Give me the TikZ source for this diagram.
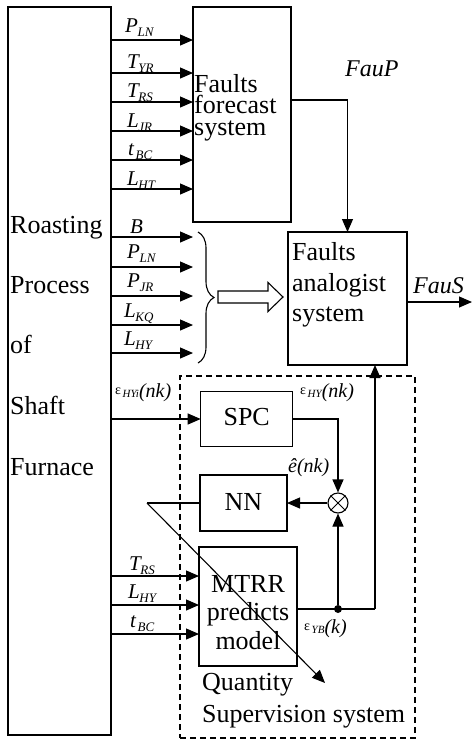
\documentclass[tikz,border=0pt]{standalone}
\usepackage{fontspec}
\setmainfont{Liberation Serif}
\usetikzlibrary{arrows.meta,decorations.pathreplacing}
\newcommand\bigf{\fontsize{26}{26}\selectfont}
\newcommand\lab[2]{{\itshape\fontsize{21}{21}\selectfont #1\kern-0.5pt\raisebox{-4pt}{\fontsize{13}{13}\selectfont #2}}}
\newcommand\myeps{{\fontsize{14}{14}\selectfont\raisebox{3pt}{ε}}}
\newcommand\mysub[1]{{\itshape\fontsize{11}{11}\selectfont #1}}
\newcommand\myarg[1]{{\itshape\fontsize{20}{20}\selectfont #1}}
\begin{document}
\begin{tikzpicture}[x=1pt,y=-1pt,
  box/.style={draw, line width=1.2pt, inner sep=0pt, outer sep=0pt},
  arr/.style={line width=1.1pt, -{Triangle[length=13pt,width=11pt]}},
  ln/.style={line width=1.1pt},
  txt/.style={inner sep=0pt, anchor=base west, font=\bigf},
  ctxt/.style={inner sep=0pt, anchor=base, font=\bigf},
  lbl/.style={inner sep=0pt, anchor=base west}]
\useasboundingbox (0,0) rectangle (473,740);
% boxes
\node[box, minimum width=103pt, minimum height=728pt] (lb) at (59.5,371) {};
\node[box, minimum width=98pt, minimum height=215pt] (fc) at (242,114.5) {};
\node[box, minimum width=119pt, minimum height=133pt] (an) at (347.5,298.5) {};
\node[draw, dashed, dash pattern=on 6pt off 4pt, line width=1.2pt, inner sep=0pt, minimum width=235pt, minimum height=362pt] (qs) at (297.5,557) {};
\node[box, minimum width=92pt, minimum height=55pt] (spc) at (246.7,419) {};
\node[box, minimum width=87pt, minimum height=56pt] (nn) at (243.5,503) {};
\node[box, minimum width=98pt, minimum height=119pt] (mt) at (248,606.5) {};
\node[draw, circle, line width=1.1pt, minimum size=20pt, inner sep=0pt] (mul) at (338,503) {};
\draw[line width=1pt] (mul.north west) -- (mul.south east) (mul.north east) -- (mul.south west);
\node[circle, fill, minimum size=8pt, inner sep=0pt] (dot) at (338,609) {};
% texts
\node[txt] (t1) at (10,233) {Roasting};
\node[txt] (t2) at (10,293) {Process};
\node[txt] (t3) at (10,353) {of};
\node[txt] (t4) at (10,414) {Shaft};
\node[txt] (t5) at (10,475) {Furnace};
\node[txt] (f1) at (194,92) {Faults};
\node[txt] (f2) at (194,113.5) {forecast};
\node[txt] (f3) at (194,135) {system};
\node[txt] (a1) at (292,260) {Faults};
\node[txt] (a2) at (292,291) {analogist};
\node[txt] (a3) at (292,321) {system};
\node[ctxt] (s1) at (246.7,425) {SPC};
\node[ctxt] (n1) at (243.5,510) {NN};
\node[ctxt] (m1) at (248,592) {MTRR};
\node[ctxt] (m2) at (248,620) {predicts};
\node[ctxt] (m3) at (248,649) {model};
\node[txt] (q1) at (202,690) {Quantity};
\node[txt] (q2) at (202,722) {Supervision system};
\node[lbl, font=\itshape\fontsize{24}{24}\selectfont] (fp) at (345,76) {FauP};
\node[lbl, font=\itshape\fontsize{24}{24}\selectfont] (fs) at (413,293) {FauS};
% input labels
\node[lbl] (i1) at (125,32) {\lab{P}{LN}};
\node[lbl] (i2) at (127,68) {\lab{T}{YR}};
\node[lbl] (i3) at (127,97) {\lab{T}{RS}};
\node[lbl] (i4) at (127,127) {\lab{L}{JR}};
\node[lbl] (i5) at (128,155) {\lab{t}{\,BC}};
\node[lbl] (i6) at (127,185) {\lab{L}{HT}};
\node[lbl] (j1) at (130,233) {\lab{B}{}};
\node[lbl] (j2) at (127,258) {\lab{P}{LN}};
\node[lbl] (j3) at (127,287) {\lab{P}{JR}};
\node[lbl] (j4) at (124,317) {\lab{L}{KQ}};
\node[lbl] (j5) at (124,345) {\lab{L}{HY}};
\node[lbl] (k1) at (129,570) {\lab{T}{RS}};
\node[lbl] (k2) at (128,598) {\lab{L}{HY}};
\node[lbl] (k3) at (130,627) {\lab{t}{\,BC}};
\node[lbl] (e1) at (115,397) {\myeps\,\mysub{HYi}\myarg{(nk)}};
\node[lbl] (e2) at (300,397) {\myeps\,\mysub{HY}\myarg{(nk)}};
\node[lbl] (e3) at (288,472) {\myarg{ê(nk)}};
\node[lbl] (e4) at (304,633) {\myeps\,\mysub{YB}\myarg{(k)}};
% arrows
\foreach \y in {40,73,102,131,160,189} \draw[arr] (lb.east |- 0,\y) -- (fc.west |- 0,\y);
\foreach \y in {237,267,296,325,353} \draw[arr] (lb.east |- 0,\y) -- (fc.west |- 0,\y);
\foreach \y in {576,605,634} \draw[arr] (lb.east |- 0,\y) -- (mt.west |- 0,\y);
\draw[decorate, decoration={brace, amplitude=16pt}, line width=1.1pt] (198,232) -- (198,363);
\draw[line width=1.1pt, fill=white] (218,291) -- (268,291) -- (268,282.5) -- (283,297) -- (268,311.5) -- (268,303) -- (218,303) -- cycle;
\draw[arr] (fc.east |- 0,100) -| (an.north);
\coordinate (fsend) at (472,302);
\draw[arr] (an.east |- fsend) -- (fsend);
\draw[arr] (lb.east |- spc.west) -- (spc.west);
\draw[arr] (spc.east) -| (mul.north);
\draw[arr] (mul.west) -- (nn.east);
\coordinate (rc) at (375,609);
\draw[ln] (mt.east |- dot) -- (rc);
\draw[arr] (rc) -- (rc |- an.south);
\draw[arr] (dot) -- (mul.south);
\coordinate (nnl) at (147,503);
\coordinate (diagend) at (325,683);
\draw[ln] (nn.west) -- (nnl);
\draw[arr] (nnl) -- (diagend);
\end{tikzpicture}
\end{document}
